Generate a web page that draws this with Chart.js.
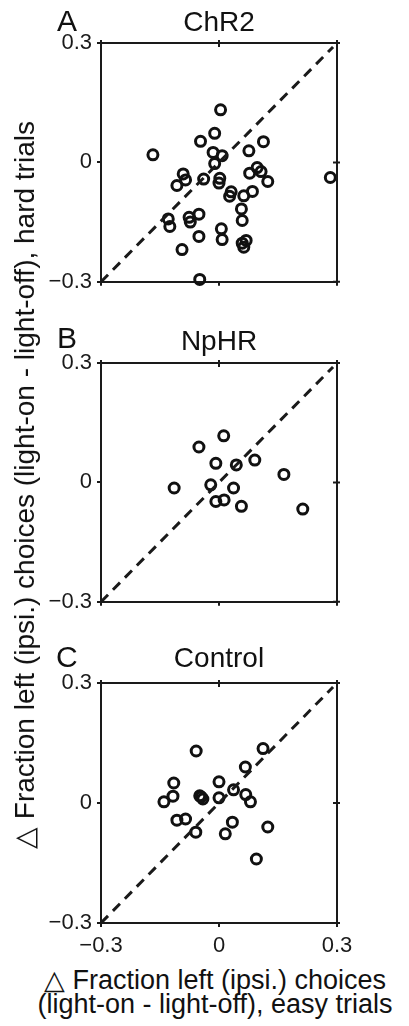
<!DOCTYPE html>
<html>
<head>
<meta charset="utf-8">
<script src="https://cdn.jsdelivr.net/npm/chart.js@4"></script>
<style>
  html, body { margin: 0; padding: 0; background: #fff; }
  #wrap { position: relative; width: 409px; height: 1026px; overflow: hidden;
          font-family: "Liberation Sans", Arial, sans-serif; color: #111; }
  canvas { position: absolute; left: 0; }
  .txt { position: absolute; white-space: nowrap; line-height: 1; }
</style>
</head>
<body>
<div id="wrap">
  <canvas id="panelA" width="409" height="300" style="top:0px"></canvas>
  <canvas id="panelB" width="409" height="300" style="top:320px"></canvas>
  <canvas id="panelC" width="409" height="320" style="top:640px"></canvas>

  <div class="txt" style="left:57px; top:6px; font-size:30px;">A</div>
  <div class="txt" style="left:57px; top:323px; font-size:30px;">B</div>
  <div class="txt" style="left:56px; top:642px; font-size:30px;">C</div>

  <div class="txt" style="left:219px; top:8px; font-size:28px; transform:translateX(-50%);">ChR2</div>
  <div class="txt" style="left:219px; top:327px; font-size:28px; transform:translateX(-50%);">NpHR</div>
  <div class="txt" style="left:219px; top:644px; font-size:28px; transform:translateX(-50%);">Control</div>

  <div class="txt" style="left:25px; top:485px; font-size:28px; transform:translate(-50%,-50%) rotate(-90deg);">△ Fraction left (ipsi.) choices (light-on - light-off), hard trials</div>

  <div class="txt" style="left:215px; top:967px; font-size:27px; transform:translateX(-50%);">△ Fraction left (ipsi.) choices</div>
  <div class="txt" style="left:215px; top:991px; font-size:27px; transform:translateX(-50%);">(light-on - light-off), easy trials</div>
</div>
<script>
// axis ticks
const xTicks = [-0.3, 0, 0.3];
const yTicks = [-0.3, 0, 0.3];

// unity line
const diagX = [-0.3, 0.29];
const diagY = [-0.3, 0.29];

// A: ChR2
const chr2X = [-0.168, 0.004, -0.011, -0.047, 0.113, 0.076, -0.015, 0.008, -0.011, 0.283,
               -0.091, -0.085, -0.107, -0.039, 0.002, 0.000, 0.078, 0.097, 0.107, 0.124,
               0.031, 0.027, 0.063, 0.085, 0.057, 0.059, -0.129, -0.125, -0.076, -0.073,
               -0.051, 0.006, 0.008, -0.051, -0.094, 0.059, 0.069, 0.063, -0.049];
const chr2Y = [0.019, 0.132, 0.073, 0.053, 0.052, 0.029, 0.025, 0.017, -0.003, -0.038,
               -0.029, -0.044, -0.058, -0.042, -0.040, -0.052, -0.027, -0.013, -0.023, -0.048,
               -0.074, -0.085, -0.084, -0.073, -0.117, -0.146, -0.142, -0.161, -0.138, -0.150,
               -0.130, -0.167, -0.194, -0.186, -0.219, -0.203, -0.196, -0.213, -0.294];

// B: NpHR
const nphrX = [-0.114, -0.051, 0.012, -0.008, 0.044, 0.091, 0.165, -0.021, 0.037, -0.008, 0.013, 0.057, 0.213];
const nphrY = [-0.014, 0.089, 0.117, 0.048, 0.044, 0.056, 0.020, -0.006, -0.014, -0.048, -0.044, -0.060, -0.067];

// C: Control
const ctrlX = [-0.058, 0.112, 0.067, -0.115, 0.000, -0.117, -0.140, 0.037, -0.049, -0.041, -0.045,
               0.000, 0.068, 0.080, -0.107, -0.085, 0.034, -0.059, 0.016, 0.124, 0.095];
const ctrlY = [0.130, 0.136, 0.090, 0.050, 0.053, 0.017, 0.003, 0.033, 0.018, 0.010, 0.015,
               0.013, 0.021, 0.003, -0.043, -0.040, -0.048, -0.073, -0.077, -0.060, -0.140];

const font = '"Liberation Sans", Arial, sans-serif';
const ink = '#1a1a1a';

function fmt(v) {
  if (v === 0) return '0';
  return (v < 0 ? '\u2212' : '') + Math.abs(v).toFixed(1);
}

// draws top and right sides of the box plus their small ticks
const framePlugin = {
  id: 'frame',
  afterDatasetsDraw(chart) {
    const { ctx, chartArea: a, scales } = chart;
    ctx.save();
    ctx.strokeStyle = ink;
    ctx.lineWidth = 2;
    ctx.beginPath();
    ctx.moveTo(a.left - 1, a.top);
    ctx.lineTo(a.right, a.top);
    ctx.lineTo(a.right, a.bottom + 1);
    xTicks.forEach(v => {
      const px = scales.x.getPixelForValue(v);
      ctx.moveTo(px, a.top - 3);
      ctx.lineTo(px, a.top + 4);
    });
    yTicks.forEach(v => {
      const py = scales.y.getPixelForValue(v);
      ctx.moveTo(a.right - 4, py);
      ctx.lineTo(a.right + 3, py);
    });
    ctx.stroke();
    ctx.restore();
  }
};

// xHeight: room kept under the box for x tick labels (labels are clipped to it)
function makePanel(id, xs, ys, showX, xHeight, bottomPad) {
  const pts = xs.map((x, i) => ({ x: x, y: ys[i] }));
  const diag = diagX.map((x, i) => ({ x: x, y: diagY[i] }));
  new Chart(document.getElementById(id), {
    type: 'scatter',
    data: {
      datasets: [
        {
          type: 'line',
          data: diag,
          borderColor: ink,
          borderWidth: 3,
          borderDash: [10, 7],
          pointRadius: 0,
          fill: false
        },
        {
          data: pts,
          pointStyle: 'circle',
          pointRadius: 5,
          borderWidth: 3,
          borderColor: '#111',
          backgroundColor: 'rgba(0,0,0,0)',
          clip: false
        }
      ]
    },
    options: {
      responsive: false,
      animation: false,
      events: [],
      layout: { padding: { left: 0, right: 72, top: 43, bottom: bottomPad } },
      plugins: { legend: { display: false }, tooltip: { enabled: false }, title: { display: false } },
      scales: {
        x: {
          type: 'linear',
          min: -0.3,
          max: 0.3,
          afterBuildTicks: s => { s.ticks = xTicks.map(v => ({ value: v })); },
          afterFit: s => { s.height = xHeight; },
          grid: { drawOnChartArea: false, drawTicks: true, tickLength: 4, color: ink, lineWidth: 2 },
          border: { display: true, color: ink, width: 2 },
          ticks: {
            display: showX,
            padding: 6,
            color: ink,
            autoSkip: false,
            font: { family: font, size: 22 },
            maxRotation: 0,
            callback: v => fmt(v)
          }
        },
        y: {
          type: 'linear',
          min: -0.3,
          max: 0.3,
          afterBuildTicks: s => { s.ticks = yTicks.map(v => ({ value: v })); },
          afterFit: s => { s.width = 101; },
          grid: { drawOnChartArea: false, drawTicks: true, tickLength: 4, color: ink, lineWidth: 2 },
          border: { display: true, color: ink, width: 2 },
          ticks: {
            padding: 5,
            color: ink,
            font: { family: font, size: 22 },
            callback: v => fmt(v)
          }
        }
      }
    },
    plugins: [framePlugin]
  });
}

makePanel('panelA', chr2X, chr2Y, false, 0, 17);
makePanel('panelB', nphrX, nphrY, false, 0, 17);
makePanel('panelC', ctrlX, ctrlY, true, 36, 1);
</script>
</body>
</html>
